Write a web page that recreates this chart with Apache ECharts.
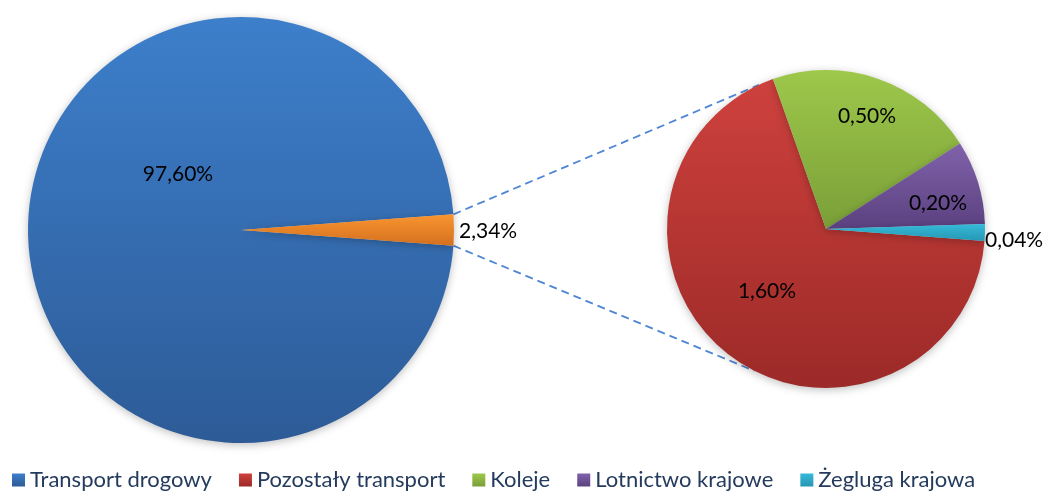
<!DOCTYPE html>
<html>
<head>
<meta charset="utf-8">
<script src="https://cdn.jsdelivr.net/npm/echarts@6/dist/echarts.min.js"></script>
<style>
  html, body { margin: 0; padding: 0; background: #fff; }
  #chart { width: 1046px; height: 492px; }
</style>
</head>
<body>
<div id="chart"></div>
<script>
// main pie: road transport vs. the rest
var mainNames = ["Transport drogowy", "Inne"];
var mainValues = [97.6, 2.34];
var mainLabels = ["97,60%", "2,34%"];

// breakdown of the rest
var subNames = ["Pozostały transport", "Koleje", "Lotnictwo krajowe", "Żegluga krajowa"];
var subValues = [1.6, 0.5, 0.2, 0.04];
var subLabels = ["1,60%", "0,50%", "0,20%", "0,04%"];

var legendNames = ["Transport drogowy", "Pozostały transport", "Koleje", "Lotnictwo krajowe", "Żegluga krajowa"];

function grad(top, bottom) {
  return {
    type: "linear", x: 0, y: 0, x2: 0, y2: 1,
    colorStops: [{ offset: 0, color: top }, { offset: 1, color: bottom }],
  };
}

var mainColors = [grad("#3d7fcb", "#2d5b97"), grad("#f9952f", "#d4701f")];
var subColors = [
  grad("#ce413d", "#9c2a28"),
  grad("#9dc84a", "#7a9f38"),
  grad("#8062aa", "#5b4180"),
  grad("#35bad9", "#2697b3"),
];

var leftC = [241, 230], leftR = 213;
var rightC = [826, 229], rightR = 159;

var mainTotal = mainValues[0] + mainValues[1];
var half = (mainValues[1] / mainTotal) * 180;
var subTotal = subValues[0] + subValues[1] + subValues[2] + subValues[3];

// label spots (pixels)
var mainLabelPos = [[178, 174, "center"], [459, 231, "left"]];
var subLabelPos = [[767, 291, "center"], [867, 116, "center"], [938, 203, "center"], [985, 240, "left"]];

function pt(c, r, deg) {
  var a = (deg * Math.PI) / 180;
  return [c[0] + r * Math.cos(a), c[1] - r * Math.sin(a)];
}

var p1 = pt(leftC, leftR, half);
var p2 = pt(leftC, leftR, -half);
var q1 = pt(rightC, rightR, 115);
var q2 = pt(rightC, rightR, -117);

var dashStyle = { stroke: "#4f86d4", lineWidth: 1.8, lineDash: [8, 5] };

var chart = echarts.init(document.getElementById("chart"));
chart.setOption({
  animation: false,
  legend: {
    data: legendNames,
    left: 12,
    top: 469,
    padding: 0,
    icon: "rect",
    itemWidth: 13,
    itemHeight: 13,
    itemGap: 27,
    textStyle: { fontFamily: "Lato", fontSize: 22, color: "#243b5e" },
  },
  graphic: [
    {
      type: "line",
      shape: { x1: p1[0], y1: p1[1], x2: q1[0], y2: q1[1] },
      style: dashStyle,
      z: 1,
    },
    {
      type: "line",
      shape: { x1: p2[0], y1: p2[1], x2: q2[0], y2: q2[1] },
      style: dashStyle,
      z: 1,
    },
  ],
  series: [
    {
      type: "pie",
      center: leftC,
      radius: leftR,
      startAngle: -half,
      clockwise: true,
      minAngle: 0,
      z: 2,
      itemStyle: { shadowBlur: 8, shadowColor: "rgba(0,0,0,0.25)", shadowOffsetY: 2 },
      label: {
        show: true,
        position: "inside",
        formatter: function (p) { return mainLabels[p.dataIndex]; },
        fontFamily: "Lato",
        fontSize: 21,
        color: "#000",
      },
      labelLine: { show: false },
      labelLayout: function (p) {
        var s = mainLabelPos[p.dataIndex];
        return { x: s[0], y: s[1], align: s[2], verticalAlign: "middle" };
      },
      emphasis: { disabled: true },
      data: mainNames.map(function (n, i) {
        return { name: n, value: mainValues[i], itemStyle: { color: mainColors[i] } };
      }),
    },
    {
      type: "pie",
      center: rightC,
      radius: rightR,
      startAngle: -(subValues[3] / subTotal) * 360 + 1.8,
      clockwise: true,
      minAngle: 0,
      z: 2,
      itemStyle: { shadowBlur: 8, shadowColor: "rgba(0,0,0,0.25)", shadowOffsetY: 2 },
      label: {
        show: true,
        position: "inside",
        formatter: function (p) { return subLabels[p.dataIndex]; },
        fontFamily: "Lato",
        fontSize: 21,
        color: "#000",
      },
      labelLine: { show: false },
      labelLayout: function (p) {
        var s = subLabelPos[p.dataIndex];
        return { x: s[0], y: s[1], align: s[2], verticalAlign: "middle" };
      },
      emphasis: { disabled: true },
      data: subNames.map(function (n, i) {
        return { name: n, value: subValues[i], itemStyle: { color: subColors[i] } };
      }),
    },
  ],
});
</script>
</body>
</html>
